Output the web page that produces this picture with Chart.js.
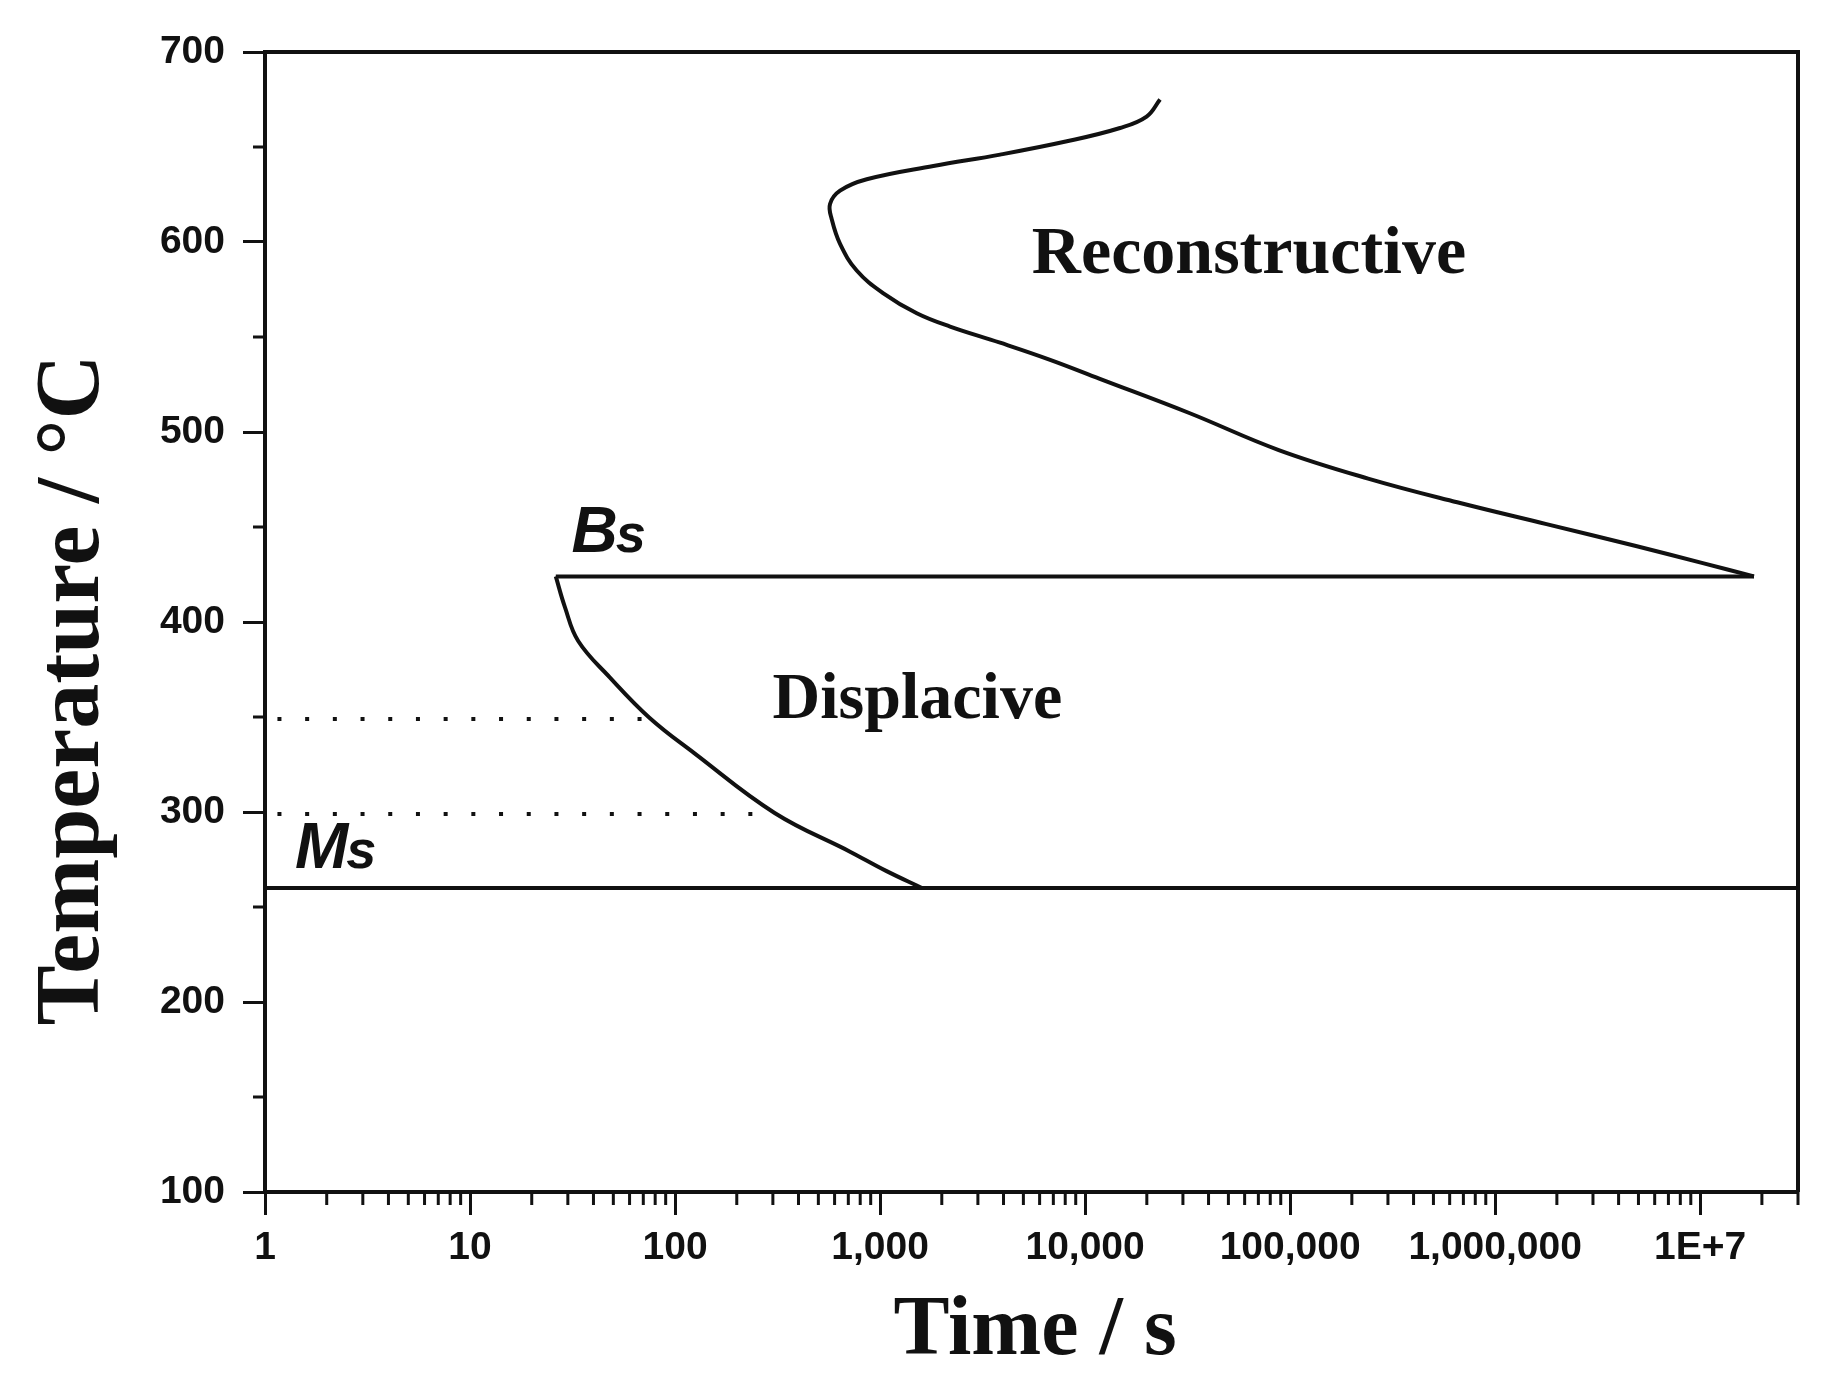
<!DOCTYPE html>
<html>
<head>
<meta charset="utf-8">
<script src="https://cdn.jsdelivr.net/npm/chart.js@4"></script>
<style>
  html, body { margin: 0; padding: 0; background: #fff; }
  canvas { display: block; }
</style>
</head>
<body>
<canvas id="ttt" width="1842" height="1379" style="width:1842px;height:1379px"></canvas>
<script>
// axis ticks
const xTickValues = [1, 10, 100, 1000, 10000, 100000, 1000000, 10000000];
const xTickLabels = ['1', '10', '100', '1,000', '10,000', '100,000', '1,000,000', '1E+7'];
const yTickValues = [100, 200, 300, 400, 500, 600, 700];

// reconstructive C-curve (time s, temperature C)
const reconTime = [23200, 19950, 14800, 8150, 3850, 1820, 861, 638, 570, 581, 638, 769, 1038, 1510, 2195, 3850, 6750, 11800, 32200, 88000, 240000, 653000, 1780000, 4860000, 10300000, 18300000];
const reconTemp = [675, 666, 660, 653, 646, 640, 633, 627, 620, 612, 599, 585, 573, 562.5, 555.5, 547, 538, 528, 510, 490.5, 475.5, 463, 451.5, 440, 431, 424];

// displacive curve
const dispTime = [26.2, 29, 33.7, 47.9, 75.2, 124, 306, 717, 1070, 1600];
const dispTemp = [424, 408, 390, 371, 349.5, 331, 299.5, 279, 269, 260];

// Bs and Ms lines
const bsTime = [26.2, 18300000];
const bsTemp = [424, 424];
const msTime = [1, 30000000];
const msTemp = [260, 260];

// dotted guides
const dot350Time = [1.15, 75.2];
const dot350Temp = [349, 349];
const dot300Time = [1.15, 306];
const dot300Temp = [299, 299];

const pts = (xs, ys) => xs.map((x, i) => ({ x: x, y: ys[i] }));
const ink = '#111';

function line(data, extra) {
    return Object.assign({
        data: data,
        showLine: true,
        borderColor: ink,
        borderWidth: 4,
        pointRadius: 0,
        tension: 0,
        fill: false
    }, extra || {});
}

const minorTicks = {
    id: 'minorTicks',
    afterDraw(chart) {
        const { ctx, chartArea: a, scales: { x, y } } = chart;
        ctx.save();
        ctx.strokeStyle = ink;
        ctx.lineWidth = 3;
        ctx.beginPath();
        for (let d = 0; d <= 7; d++) {
            for (let m = 2; m <= 9; m++) {
                const v = m * Math.pow(10, d);
                if (v > 30000000) break;
                const px = x.getPixelForValue(v);
                ctx.moveTo(px, a.bottom);
                ctx.lineTo(px, a.bottom + 13);
            }
        }
        for (let v = 150; v < 700; v += 100) {
            const py = y.getPixelForValue(v);
            ctx.moveTo(a.left - 12, py);
            ctx.lineTo(a.left, py);
        }
        ctx.stroke();
        // top and right frame
        ctx.lineWidth = 4;
        ctx.beginPath();
        ctx.moveTo(a.left, a.top);
        ctx.lineTo(a.right, a.top);
        ctx.lineTo(a.right, a.bottom);
        ctx.stroke();
        ctx.restore();
    }
};

const labels = {
    id: 'labels',
    afterDraw(chart) {
        const { ctx, scales: { x, y } } = chart;
        ctx.save();
        ctx.fillStyle = ink;
        ctx.textBaseline = 'alphabetic';

        // axis titles
        ctx.font = 'bold 90px "Liberation Serif", "Times New Roman", serif';
        ctx.textAlign = 'center';
        ctx.save();
        ctx.translate(98, 690);
        ctx.rotate(-Math.PI / 2);
        ctx.fillText('Temperature / °C', 0, 0);
        ctx.restore();
        ctx.font = 'bold 84px "Liberation Serif", "Times New Roman", serif';
        ctx.fillText('Time / s', 1035, 1354);

        // region names
        ctx.font = 'bold 68px "Liberation Serif", "Times New Roman", serif';
        ctx.fillText('Reconstructive', x.getPixelForValue(63000), y.getPixelForValue(583.7));
        ctx.font = 'bold 66px "Liberation Serif", "Times New Roman", serif';
        ctx.fillText('Displacive', x.getPixelForValue(1520), y.getPixelForValue(349.5));

        // Bs / Ms
        ctx.textAlign = 'left';
        const sub = (cap, s, t, T) => {
            const px = x.getPixelForValue(t);
            const py = y.getPixelForValue(T);
            ctx.font = 'italic bold 64px "Liberation Sans", Arial, sans-serif';
            ctx.fillText(cap, px, py);
            const w = ctx.measureText(cap).width;
            ctx.font = 'italic bold 54px "Liberation Sans", Arial, sans-serif';
            ctx.fillText(s, px + w - 2, py);
        };
        sub('B', 's', 31.3, 437);
        sub('M', 's', 1.40, 270.4);
        ctx.restore();
    }
};

new Chart(document.getElementById('ttt'), {
    type: 'scatter',
    data: {
        datasets: [
            line(pts(reconTime, reconTemp), { tension: 0.4 }),
            line(pts(dispTime, dispTemp), { tension: 0.4 }),
            line(pts(bsTime, bsTemp)),
            line(pts(msTime, msTemp)),
            line(pts(dot350Time, dot350Temp), { borderDash: [4, 23.7] }),
            line(pts(dot300Time, dot300Temp), { borderDash: [4, 23.7] })
        ]
    },
    options: {
        responsive: false,
        animation: false,
        devicePixelRatio: 1,
        layout: { padding: { left: 0, top: 52, right: 44, bottom: 0 } },
        plugins: {
            legend: { display: false },
            tooltip: { enabled: false }
        },
        scales: {
            x: {
                type: 'logarithmic',
                min: 1,
                max: 30000000,
                afterBuildTicks: s => { s.ticks = xTickValues.map(v => ({ value: v })); },
                afterFit: s => { s.height = 187; },
                ticks: {
                    autoSkip: false,
                    maxRotation: 0,
                    padding: 10,
                    color: ink,
                    font: { family: '"Liberation Sans", Arial, sans-serif', size: 39, weight: 'bold' },
                    callback: (v, i) => xTickLabels[i]
                },
                grid: { drawOnChartArea: false, drawTicks: true, tickLength: 23, tickWidth: 3, tickColor: ink },
                border: { display: true, width: 4, color: ink }
            },
            y: {
                type: 'linear',
                min: 100,
                max: 700,
                afterBuildTicks: s => { s.ticks = yTickValues.map(v => ({ value: v })); },
                afterFit: s => { s.width = 265; },
                ticks: {
                    padding: 18,
                    color: ink,
                    font: { family: '"Liberation Sans", Arial, sans-serif', size: 39, weight: 'bold' }
                },
                grid: { drawOnChartArea: false, drawTicks: true, tickLength: 22, tickWidth: 3, tickColor: ink },
                border: { display: true, width: 4, color: ink }
            }
        }
    },
    plugins: [minorTicks, labels]
});
</script>
</body>
</html>
